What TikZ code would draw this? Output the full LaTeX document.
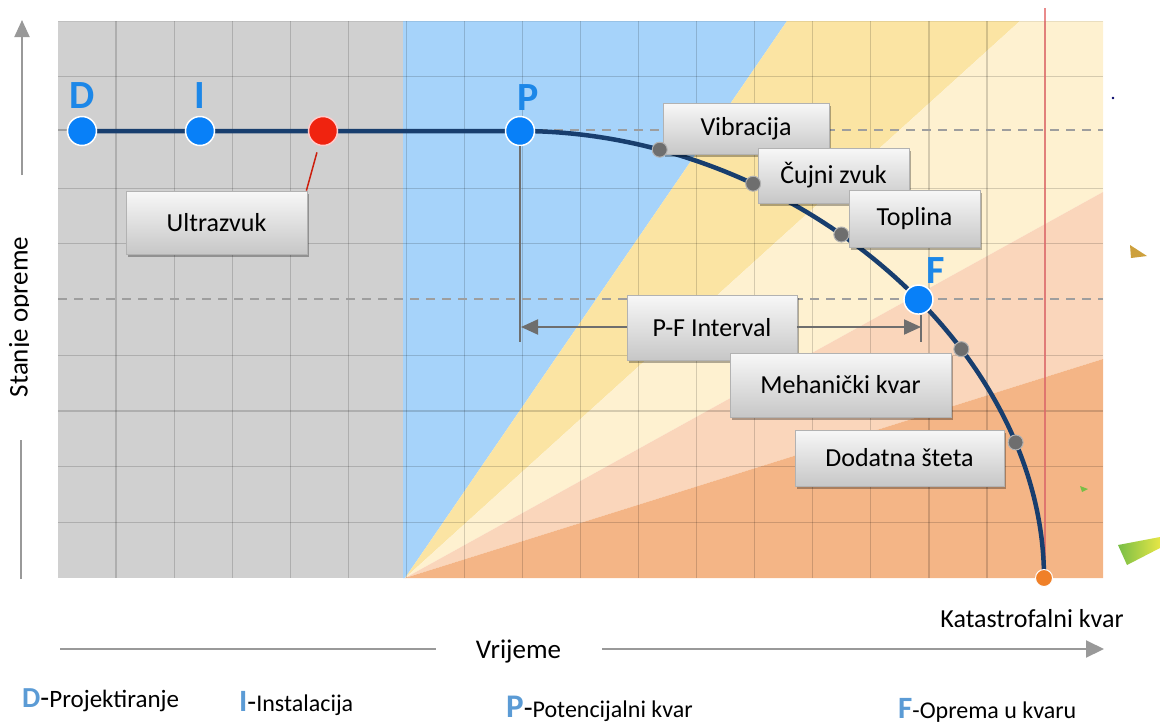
\documentclass[tikz,border=0pt]{standalone}
\usepackage{fontspec}
\setmainfont{Carlito}
\usetikzlibrary{arrows.meta,shadows}
\definecolor{plotgray}{RGB}{208,208,208}
\definecolor{plotblue}{RGB}{166,211,250}
\definecolor{plotyellow}{RGB}{251,228,163}
\definecolor{plotcream}{RGB}{254,241,208}
\definecolor{plotpeach}{RGB}{250,214,187}
\definecolor{plotorange}{RGB}{244,181,134}
\definecolor{curvenavy}{RGB}{24,62,110}
\definecolor{dotblue}{RGB}{8,128,248}
\definecolor{letterblue}{RGB}{28,135,232}
\definecolor{legendblue}{RGB}{91,155,213}
\definecolor{axisgray}{RGB}{128,128,128}
\definecolor{dotgray}{RGB}{110,110,110}
\definecolor{reddot}{RGB}{240,35,15}
\definecolor{enddot}{RGB}{240,128,40}
\definecolor{failred}{RGB}{228,110,110}
\definecolor{markbrown}{RGB}{205,160,60}
\definecolor{markgreen}{RGB}{120,190,70}
\definecolor{markyellow}{RGB}{230,230,70}
\newcommand\fsz[1]{\fontsize{#1}{#1}\selectfont}
\begin{document}
\begin{tikzpicture}[x=1pt,y=-1pt,
  gridline/.style={black, opacity=0.16, line width=1.2pt},
  griddash/.style={black!38, line width=1.5pt, dash pattern=on 9pt off 7pt},
  curveline/.style={curvenavy, line width=4.5pt},
  bigdot/.style={circle, draw=white, line width=1.5pt, inner sep=0pt, minimum size=29pt, fill=dotblue},
  smalldot/.style={circle, draw=white!70!black, line width=1pt, inner sep=0pt, minimum size=15pt, fill=dotgray},
  labelbox/.style={draw=black!30, line width=0.8pt, top color=black!3, bottom color=black!22,
     drop shadow={shadow xshift=2pt, shadow yshift=-3pt, opacity=0.3, fill=black},
     inner sep=0pt, font=\fsz{26}, text=black},
  bigletter/.style={anchor=base, inner sep=0pt, text=letterblue, font=\fsz{40}\bfseries},
  pfline/.style={draw=dotgray, line width=2pt},
  pfarrow/.style={pfline, -{Triangle[length=17pt,width=15pt]}},
  axisline/.style={draw=axisgray!80, line width=2pt},
  legend/.style={anchor=base west, inner sep=0pt}
]
\useasboundingbox (0,0) rectangle (1160,724);

% ---------- background regions ----------
\fill[plotgray] (58,21) rectangle (404,578);
\fill[plotblue] (403,21) -- (787,21) -- (405,578) -- (403,578) -- cycle;
\fill[plotyellow] (405,578) -- (787,21) -- (1020,21) -- cycle;
\fill[plotcream] (405,578) -- (1020,21) -- (1103,21) -- (1103,192) -- cycle;
\fill[plotpeach] (405,578) -- (1103,192) -- (1103,359) -- cycle;
\fill[plotorange] (405,578) -- (1103,359) -- (1103,578) -- cycle;

% ---------- grid ----------
\foreach \k in {1,...,17} \draw[gridline] ({58+58.06*\k},21) -- ({58+58.06*\k},578);
\foreach \k in {1,3,4,6,7,8,9} \draw[gridline] (58,{21+55.7*\k}) -- (1103,{21+55.7*\k});
\draw[black, opacity=0.08, line width=1pt] (58,21) -- (1103,21);
\draw[griddash] (58,130) -- (1103,130);
\draw[griddash] (58,299) -- (1103,299);

% ---------- catastrophic failure line ----------
\draw[failred, opacity=0.8, line width=2.5pt] (1045,8) -- (1045,578);

% ---------- axes ----------
\coordinate (yTop) at (22,20);
\coordinate (yMid) at (22,175);
\coordinate (yLow1) at (21,440);
\coordinate (yLow2) at (21,579);
\draw[axisline, -{Triangle[length=17pt,width=15pt]}] (yMid) -- (yTop);
\draw[axisline] (yLow1) -- (yLow2);
\begin{scope}
\clip (0,200) rectangle (28.5,430);
\node[rotate=90, anchor=base, inner sep=0pt, font=\fsz{27}] (ylab) at (27.5,317) {Stanje opreme};
\end{scope}

\node[anchor=base, inner sep=0pt, font=\fsz{27}] (xlab) at (518.5,658) {Vrijeme};
\coordinate (xL1) at (60,649);
\coordinate (xL2) at (436,649);
\coordinate (xR1) at (602,649);
\coordinate (xR2) at (1104,649);
\draw[axisline] (xL1) -- (xL2);
\draw[axisline, -{Triangle[length=18pt,width=17pt]}] (xR1) -- (xR2);
\node[anchor=base, inner sep=0pt, font=\fsz{26}] (kat) at (1032,627) {Katastrofalni kvar};

% ---------- degradation curve ----------
\coordinate (cD) at (82,131);
\coordinate (cI) at (200,131);
\coordinate (cR) at (323,131);
\coordinate (cP) at (520,131);
\coordinate (cK) at (1044,578);
\draw[curveline] (cD) -- (cI) -- (cR) -- (cP) .. controls (792,131) and (1044,346) .. (cK)
  coordinate[pos=0.175] (g1) coordinate[pos=0.30] (g2) coordinate[pos=0.43] (g3)
  coordinate[pos=0.562] (cF) coordinate[pos=0.65] (g4) coordinate[pos=0.80] (g5);

% ---------- label boxes ----------
\node[labelbox, minimum width=181pt, minimum height=63pt] (ult) at (216.5,222.5) {Ultrazvuk};
\node[labelbox, minimum width=166pt, minimum height=51pt] (vib) at (746,128.5) {Vibracija};
\node[labelbox, minimum width=151pt, minimum height=55pt] (cuj) at (833.5,175.5) {Čujni zvuk};
\node[labelbox, minimum width=131pt, minimum height=57pt] (topl) at (914.5,218.5) {Toplina};
\node[labelbox, minimum width=170pt, minimum height=65pt] (pf) at (712,327.5) {P-F Interval};
\node[labelbox, minimum width=221pt, minimum height=64pt] (meh) at (840.5,385) {Mehanički kvar};
\node[labelbox, minimum width=209pt, minimum height=56pt] (dod) at (899.5,458) {Dodatna šteta};

% ---------- dots ----------
\node[bigdot] (dD) at (cD) {};
\node[bigdot] (dI) at (cI) {};
\node[bigdot, fill=reddot, draw=white!80!red] (dR) at (cR) {};
\node[bigdot] (dP) at (cP) {};
\node[bigdot] (dF) at (cF) {};
\node[smalldot] (s1) at (g1) {};
\node[smalldot] (s2) at (g2) {};
\node[smalldot] (s3) at (g3) {};
\node[smalldot] (s4) at (g4) {};
\node[smalldot] (s5) at (g5) {};
\node[circle, draw=white, line width=1pt, inner sep=0pt, minimum size=17pt, fill=enddot] (dK) at (cK) {};

\draw[reddot!85!black, line width=1.5pt, shorten <=7pt] (dR.-106) -- ([xshift=-1pt]ult.north east);

% ---------- letters on the chart ----------
\node[bigletter] (lD) at (82,108) {D};
\node[bigletter] (lI) at (200,108) {I};
\node[bigletter] (lP) at (528,110) {P};
\node[bigletter] (lF) at (936,283) {F};

% ---------- P-F interval ----------
\coordinate (pLow) at (520,342);
\coordinate (pfL) at (521,327);
\coordinate (pfR) at (921,327);
\coordinate (fTickT) at (921,315);
\coordinate (fTickB) at (921,342);
\draw[pfline] (dP.south) -- (pLow);
\draw[pfline] (fTickT) -- (fTickB);
\draw[pfarrow] (pf.west |- pfL) -- (pfL);
\draw[pfarrow] (pf.east |- pfR) -- (pfR);

% ---------- legend ----------
\node[legend] (legD) at (22,707) {{\fsz{29}\bfseries\color{legendblue}D}{\fsz{29}-}{\fsz{25}Projektiranje}};
\node[legend] (legI) at (239,711) {{\fsz{31}\bfseries\color{legendblue}I}{\fsz{29}-}{\fsz{24}Instalacija}};
\node[legend] (legP) at (506,717) {{\fsz{33}\bfseries\color{legendblue}P}{\fsz{29}-}{\fsz{24}Potencijalni kvar}};
\node[legend] (legF) at (898,718) {{\fsz{31}\bfseries\color{legendblue}F}{\fsz{24}-Oprema u kvaru}};

% ---------- small stray marks at the right ----------
\fill[black!60!blue] (1113,98) circle (1.3pt);
\fill[markbrown] (1130,245) -- (1147,256) -- (1131,258) -- cycle;
\fill[markgreen] (1080,486) -- (1088,489) -- (1082,492) -- cycle;
\shade[left color=markgreen, right color=markyellow] (1118,545) -- (1160,537) -- (1160,548) -- (1127,565) -- cycle;
\end{tikzpicture}
\end{document}
